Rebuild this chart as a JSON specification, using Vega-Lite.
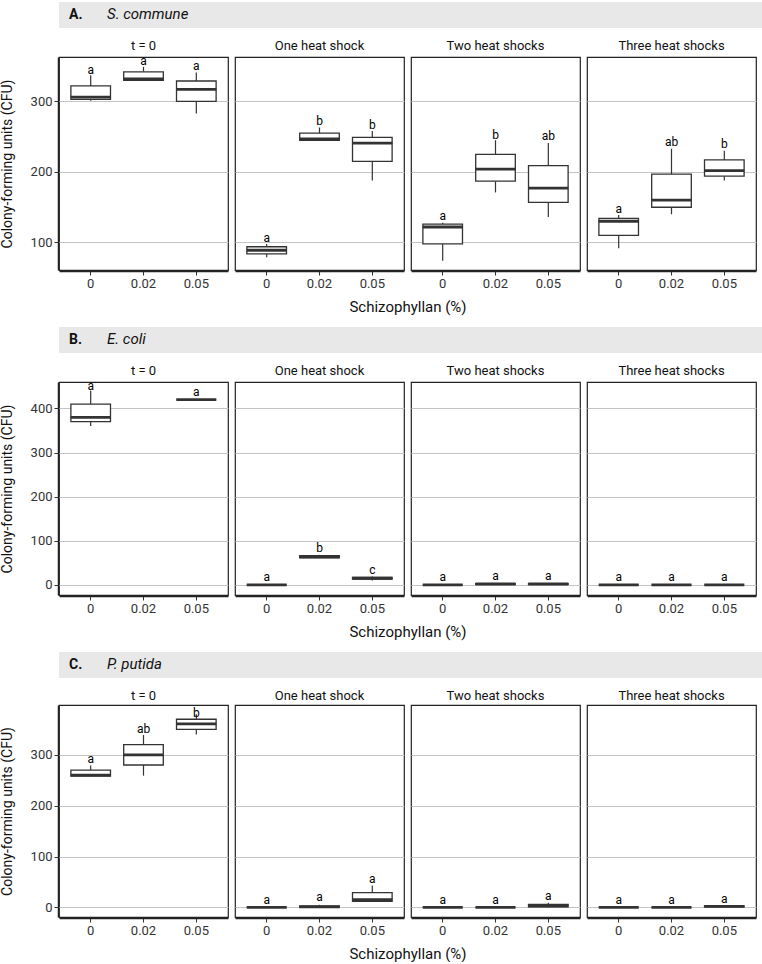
{
  "$schema": "https://vega.github.io/schema/vega-lite/v6.json",
  "background": "white",
  "padding": {"left": 0, "right": 0, "top": 2, "bottom": 0},
  "spacing": 12,
  "align": "none",
  "resolve": {"scale": {"x": "independent", "y": "independent"}},
  "config": {
    "font": "Roboto",
    "view": {"stroke": "#222222", "strokeWidth": 1.2},
    "axis": {
      "labelFontSize": 13,
      "labelColor": "#333333",
      "titleFontSize": 14,
      "titleFontWeight": "normal",
      "titleColor": "#111111",
      "tickColor": "#333333",
      "tickSize": 4,
      "domainColor": "#222222",
      "domainWidth": 1.5,
      "gridColor": "#c4c4c4",
      "gridWidth": 1,
      "labelPadding": 2
    },
    "axisX": {"grid": false, "labelAngle": 0},
    "axisY": {"titlePadding": 16},
    "header": {
      "labelFontSize": 13, "labelColor": "#111111", "labelPadding": 1, "labelOrient": "top",
      "titleOrient": "bottom", "titleFontSize": 15, "titleFontWeight": "normal", "titleColor": "#111111", "titlePadding": 0
    }
  },
  "datasets": {
    "cfu": [
      {"species": "S. commune", "shock": "t = 0", "conc": "0", "lo": 301, "q1": 303, "med": 306, "q3": 322, "hi": 337, "letter": "a", "lab": 345},
      {"species": "S. commune", "shock": "t = 0", "conc": "0.02", "lo": 329, "q1": 330, "med": 332, "q3": 342, "hi": 349, "letter": "a", "lab": 357},
      {"species": "S. commune", "shock": "t = 0", "conc": "0.05", "lo": 283, "q1": 300, "med": 317, "q3": 329, "hi": 341, "letter": "a", "lab": 350},
      {"species": "S. commune", "shock": "One heat shock", "conc": "0", "lo": 79, "q1": 84, "med": 89, "q3": 94, "hi": 98, "letter": "a", "lab": 107},
      {"species": "S. commune", "shock": "One heat shock", "conc": "0.02", "lo": 245, "q1": 245, "med": 247, "q3": 255, "hi": 263, "letter": "b", "lab": 272},
      {"species": "S. commune", "shock": "One heat shock", "conc": "0.05", "lo": 188, "q1": 215, "med": 241, "q3": 249, "hi": 258, "letter": "b", "lab": 266},
      {"species": "S. commune", "shock": "Two heat shocks", "conc": "0", "lo": 74, "q1": 98, "med": 122, "q3": 126, "hi": 128, "letter": "a", "lab": 137},
      {"species": "S. commune", "shock": "Two heat shocks", "conc": "0.02", "lo": 171, "q1": 187, "med": 204, "q3": 225, "hi": 245, "letter": "b", "lab": 253},
      {"species": "S. commune", "shock": "Two heat shocks", "conc": "0.05", "lo": 136, "q1": 157, "med": 177, "q3": 209, "hi": 241, "letter": "ab", "lab": 251},
      {"species": "S. commune", "shock": "Three heat shocks", "conc": "0", "lo": 92, "q1": 110, "med": 130, "q3": 134, "hi": 139, "letter": "a", "lab": 147},
      {"species": "S. commune", "shock": "Three heat shocks", "conc": "0.02", "lo": 140, "q1": 150, "med": 160, "q3": 197, "hi": 233, "letter": "ab", "lab": 243},
      {"species": "S. commune", "shock": "Three heat shocks", "conc": "0.05", "lo": 188, "q1": 194, "med": 202, "q3": 217, "hi": 230, "letter": "b", "lab": 239},

      {"species": "E. coli", "shock": "t = 0", "conc": "0", "lo": 360, "q1": 370, "med": 380, "q3": 410, "hi": 440, "letter": "a", "lab": 450},
      {"species": "E. coli", "shock": "t = 0", "conc": "0.05", "lo": 420, "q1": 420, "med": 420, "q3": 420, "hi": 420, "letter": "a", "lab": 438},
      {"species": "E. coli", "shock": "One heat shock", "conc": "0", "lo": 0, "q1": 0, "med": 0, "q3": 0, "hi": 0, "letter": "a", "lab": 17},
      {"species": "E. coli", "shock": "One heat shock", "conc": "0.02", "lo": 62, "q1": 62, "med": 63, "q3": 66, "hi": 68, "letter": "b", "lab": 83},
      {"species": "E. coli", "shock": "One heat shock", "conc": "0.05", "lo": 10, "q1": 13, "med": 15, "q3": 17, "hi": 19, "letter": "c", "lab": 33},
      {"species": "E. coli", "shock": "Two heat shocks", "conc": "0", "lo": 0, "q1": 0, "med": 0, "q3": 0, "hi": 0, "letter": "a", "lab": 17},
      {"species": "E. coli", "shock": "Two heat shocks", "conc": "0.02", "lo": 1, "q1": 1, "med": 2, "q3": 3, "hi": 3, "letter": "a", "lab": 20},
      {"species": "E. coli", "shock": "Two heat shocks", "conc": "0.05", "lo": 1, "q1": 1, "med": 2, "q3": 3, "hi": 4, "letter": "a", "lab": 20},
      {"species": "E. coli", "shock": "Three heat shocks", "conc": "0", "lo": 0, "q1": 0, "med": 0, "q3": 0, "hi": 0, "letter": "a", "lab": 17},
      {"species": "E. coli", "shock": "Three heat shocks", "conc": "0.02", "lo": 0, "q1": 0, "med": 0, "q3": 0, "hi": 0, "letter": "a", "lab": 17},
      {"species": "E. coli", "shock": "Three heat shocks", "conc": "0.05", "lo": 0, "q1": 0, "med": 0, "q3": 0, "hi": 0, "letter": "a", "lab": 17},

      {"species": "P. putida", "shock": "t = 0", "conc": "0", "lo": 258, "q1": 258, "med": 260, "q3": 270, "hi": 279, "letter": "a", "lab": 291},
      {"species": "P. putida", "shock": "t = 0", "conc": "0.02", "lo": 259, "q1": 280, "med": 300, "q3": 320, "hi": 339, "letter": "ab", "lab": 350},
      {"species": "P. putida", "shock": "t = 0", "conc": "0.05", "lo": 340, "q1": 350, "med": 361, "q3": 370, "hi": 380, "letter": "b", "lab": 382},
      {"species": "P. putida", "shock": "One heat shock", "conc": "0", "lo": 0, "q1": 0, "med": 0, "q3": 0, "hi": 0, "letter": "a", "lab": 14},
      {"species": "P. putida", "shock": "One heat shock", "conc": "0.02", "lo": 0, "q1": 0, "med": 1, "q3": 3, "hi": 5, "letter": "a", "lab": 20},
      {"species": "P. putida", "shock": "One heat shock", "conc": "0.05", "lo": 12, "q1": 12, "med": 15, "q3": 29, "hi": 43, "letter": "a", "lab": 55},
      {"species": "P. putida", "shock": "Two heat shocks", "conc": "0", "lo": 0, "q1": 0, "med": 0, "q3": 0, "hi": 0, "letter": "a", "lab": 14},
      {"species": "P. putida", "shock": "Two heat shocks", "conc": "0.02", "lo": 0, "q1": 0, "med": 0, "q3": 0, "hi": 0, "letter": "a", "lab": 14},
      {"species": "P. putida", "shock": "Two heat shocks", "conc": "0.05", "lo": 0, "q1": 1, "med": 3, "q3": 6, "hi": 9, "letter": "a", "lab": 22},
      {"species": "P. putida", "shock": "Three heat shocks", "conc": "0", "lo": 0, "q1": 0, "med": 0, "q3": 0, "hi": 0, "letter": "a", "lab": 15},
      {"species": "P. putida", "shock": "Three heat shocks", "conc": "0.02", "lo": 0, "q1": 0, "med": 0, "q3": 0, "hi": 0, "letter": "a", "lab": 15},
      {"species": "P. putida", "shock": "Three heat shocks", "conc": "0.05", "lo": 1, "q1": 1, "med": 2, "q3": 3, "hi": 3, "letter": "a", "lab": 16}
    ]
  },
  "vconcat": [
    {
      "spacing": 0,
      "hconcat": [
        {"width": 40, "height": 26, "data": {"values": []}, "mark": "point", "view": {"fill": "#e8e8e8", "stroke": null},
         "title": {"text": "A.", "fontSize": 14, "fontWeight": "bold", "fontStyle": "normal", "color": "#111111", "anchor": "start", "frame": "group", "offset": -20, "dx": 10}},
        {"width": 722, "height": 26, "data": {"values": []}, "mark": "point", "view": {"fill": "#e8e8e8", "stroke": null},
         "title": {"text": "S. commune", "fontSize": 15, "fontWeight": "normal", "fontStyle": "italic", "color": "#111111", "anchor": "start", "frame": "group", "offset": -20, "dx": 8}}
      ]
    },
    {
      "data": {"name": "cfu"},
      "transform": [{"filter": "datum.species === 'S. commune'"}],
      "facet": {"column": {"field": "shock", "type": "ordinal", "sort": ["t = 0", "One heat shock", "Two heat shocks", "Three heat shocks"], "title": "Schizophyllan (%)"}},
      "spacing": 5,
      "spec": {
        "width": 169,
        "height": 213,
        "encoding": {
          "x": {"field": "conc", "type": "ordinal", "sort": null, "scale": {"domain": ["0", "0.02", "0.05"], "paddingInner": 0.25, "paddingOuter": 0.225}, "axis": {"title": null}}
        },
        "layer": [
          {"mark": {"type": "rule", "color": "#333333", "strokeWidth": 1.2},
           "encoding": {"y": {"field": "lo", "type": "quantitative", "scale": {"domain": [61, 363], "nice": false, "zero": false}, "axis": {"values": [100, 200, 300], "title": "Colony-forming units (CFU)"}}, "y2": {"field": "q1"}}},
          {"mark": {"type": "rule", "color": "#333333", "strokeWidth": 1.2},
           "encoding": {"y": {"field": "q3", "type": "quantitative"}, "y2": {"field": "hi"}}},
          {"mark": {"type": "bar", "fill": "white", "stroke": "#333333", "strokeWidth": 1.3},
           "encoding": {"y": {"field": "q1", "type": "quantitative"}, "y2": {"field": "q3"}}},
          {"mark": {"type": "tick", "color": "#333333", "thickness": 2.8, "size": 40, "opacity": 1},
           "encoding": {"y": {"field": "med", "type": "quantitative"}}},
          {"mark": {"type": "text", "fontSize": 12, "baseline": "middle", "fill": "#000000"},
           "encoding": {"y": {"field": "lab", "type": "quantitative"}, "text": {"field": "letter"}}}
        ]
      }
    },
    {
      "spacing": 0,
      "hconcat": [
        {"width": 40, "height": 26, "data": {"values": []}, "mark": "point", "view": {"fill": "#e8e8e8", "stroke": null},
         "title": {"text": "B.", "fontSize": 14, "fontWeight": "bold", "fontStyle": "normal", "color": "#111111", "anchor": "start", "frame": "group", "offset": -20, "dx": 10}},
        {"width": 722, "height": 26, "data": {"values": []}, "mark": "point", "view": {"fill": "#e8e8e8", "stroke": null},
         "title": {"text": "E. coli", "fontSize": 15, "fontWeight": "normal", "fontStyle": "italic", "color": "#111111", "anchor": "start", "frame": "group", "offset": -20, "dx": 8}}
      ]
    },
    {
      "data": {"name": "cfu"},
      "transform": [{"filter": "datum.species === 'E. coli'"}],
      "facet": {"column": {"field": "shock", "type": "ordinal", "sort": ["t = 0", "One heat shock", "Two heat shocks", "Three heat shocks"], "title": "Schizophyllan (%)"}},
      "spacing": 5,
      "spec": {
        "width": 169,
        "height": 213,
        "encoding": {
          "x": {"field": "conc", "type": "ordinal", "sort": null, "scale": {"domain": ["0", "0.02", "0.05"], "paddingInner": 0.25, "paddingOuter": 0.225}, "axis": {"title": null}}
        },
        "layer": [
          {"mark": {"type": "rule", "color": "#333333", "strokeWidth": 1.2},
           "encoding": {"y": {"field": "lo", "type": "quantitative", "scale": {"domain": [-23, 460], "nice": false, "zero": false}, "axis": {"values": [0, 100, 200, 300, 400], "title": "Colony-forming units (CFU)"}}, "y2": {"field": "q1"}}},
          {"mark": {"type": "rule", "color": "#333333", "strokeWidth": 1.2},
           "encoding": {"y": {"field": "q3", "type": "quantitative"}, "y2": {"field": "hi"}}},
          {"mark": {"type": "bar", "fill": "white", "stroke": "#333333", "strokeWidth": 1.3},
           "encoding": {"y": {"field": "q1", "type": "quantitative"}, "y2": {"field": "q3"}}},
          {"mark": {"type": "tick", "color": "#333333", "thickness": 2.8, "size": 40, "opacity": 1},
           "encoding": {"y": {"field": "med", "type": "quantitative"}}},
          {"mark": {"type": "text", "fontSize": 12, "baseline": "middle", "fill": "#000000"},
           "encoding": {"y": {"field": "lab", "type": "quantitative"}, "text": {"field": "letter"}}}
        ]
      }
    },
    {
      "spacing": 0,
      "hconcat": [
        {"width": 40, "height": 26, "data": {"values": []}, "mark": "point", "view": {"fill": "#e8e8e8", "stroke": null},
         "title": {"text": "C.", "fontSize": 14, "fontWeight": "bold", "fontStyle": "normal", "color": "#111111", "anchor": "start", "frame": "group", "offset": -20, "dx": 10}},
        {"width": 722, "height": 26, "data": {"values": []}, "mark": "point", "view": {"fill": "#e8e8e8", "stroke": null},
         "title": {"text": "P. putida", "fontSize": 15, "fontWeight": "normal", "fontStyle": "italic", "color": "#111111", "anchor": "start", "frame": "group", "offset": -20, "dx": 8}}
      ]
    },
    {
      "data": {"name": "cfu"},
      "transform": [{"filter": "datum.species === 'P. putida'"}],
      "facet": {"column": {"field": "shock", "type": "ordinal", "sort": ["t = 0", "One heat shock", "Two heat shocks", "Three heat shocks"], "title": "Schizophyllan (%)"}},
      "spacing": 5,
      "spec": {
        "width": 169,
        "height": 212,
        "encoding": {
          "x": {"field": "conc", "type": "ordinal", "sort": null, "scale": {"domain": ["0", "0.02", "0.05"], "paddingInner": 0.25, "paddingOuter": 0.225}, "axis": {"title": null}}
        },
        "layer": [
          {"mark": {"type": "rule", "color": "#333333", "strokeWidth": 1.2},
           "encoding": {"y": {"field": "lo", "type": "quantitative", "scale": {"domain": [-19, 398], "nice": false, "zero": false}, "axis": {"values": [0, 100, 200, 300], "title": "Colony-forming units (CFU)"}}, "y2": {"field": "q1"}}},
          {"mark": {"type": "rule", "color": "#333333", "strokeWidth": 1.2},
           "encoding": {"y": {"field": "q3", "type": "quantitative"}, "y2": {"field": "hi"}}},
          {"mark": {"type": "bar", "fill": "white", "stroke": "#333333", "strokeWidth": 1.3},
           "encoding": {"y": {"field": "q1", "type": "quantitative"}, "y2": {"field": "q3"}}},
          {"mark": {"type": "tick", "color": "#333333", "thickness": 2.8, "size": 40, "opacity": 1},
           "encoding": {"y": {"field": "med", "type": "quantitative"}}},
          {"mark": {"type": "text", "fontSize": 12, "baseline": "middle", "fill": "#000000"},
           "encoding": {"y": {"field": "lab", "type": "quantitative"}, "text": {"field": "letter"}}}
        ]
      }
    }
  ]
}
